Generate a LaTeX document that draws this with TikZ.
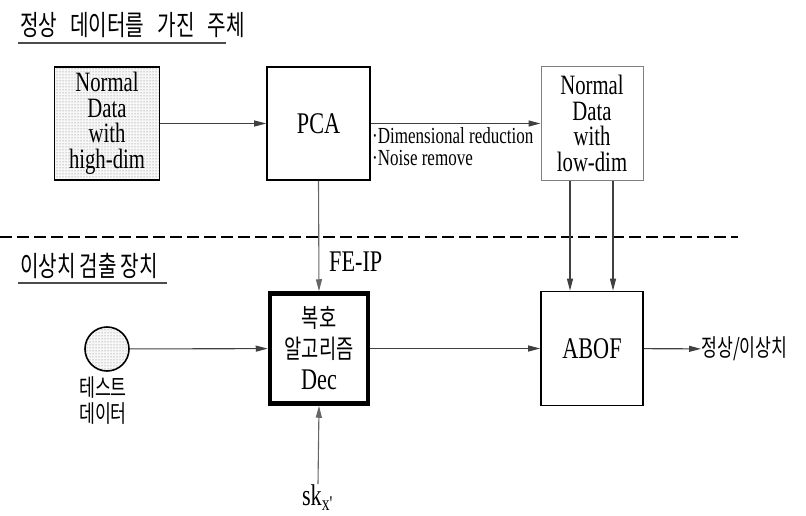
\documentclass[tikz,border=0pt]{standalone}
\usepackage{fontspec}
\setmainfont[FakeStretch=0.74]{Liberation Serif}
\newfontfamily\kr[FakeStretch=0.72]{Noto Sans CJK KR}
\usetikzlibrary{arrows.meta,patterns}
\newcommand{\krsp}{\hspace{13pt}}
\begin{document}
\begin{tikzpicture}[x=1pt,y=-1pt,
  box/.style={draw, line width=1.6pt, minimum width=103pt, minimum height=113pt, inner sep=0pt, align=center, font=\fontsize{28}{25.5}\selectfont},
  arr/.style={draw=black!75, line width=1.1pt, -{Triangle[length=12pt,width=6pt]}},
  stip/.style={preaction={fill=gray!6}, pattern=dots, pattern color=black!55},
  kor/.style={font=\kr\fontsize{28}{31}\selectfont, inner sep=0pt},
  lbl/.style={font=\fontsize{30}{30}\selectfont, inner sep=0pt}
]
\useasboundingbox (0,0) rectangle (806,516);

% titles
\node[kor, anchor=west] (t1) at (20,25) {정상\krsp 데이터를\krsp 가진\krsp 주체};
\draw[line width=1.3pt, black!70] (18,43) -- (226,43);
\node[kor, anchor=west] (t2) at (20,266) {이상치\hspace{4pt}검출\hspace{4pt}장치};
\draw[line width=1.3pt, black!70] (18,283) -- (167,283);

% separator
\draw[line width=2pt, dash pattern=on 12pt off 5pt] (0,237) -- (738,237);

% top row
\node[box, stip, minimum width=105pt] (hd) at (107,123.5) {Normal\\Data\\with\\high-dim};
\node[box, font=\fontsize{30}{30}\selectfont] (pca) at (318.5,123.5) {PCA};
\node[box, draw=black!50, line width=1pt, minimum width=102pt] (ld) at (592,123.5) {Normal\\Data\\with\\low-dim};

% bottom row
\node[box, line width=4.5pt, minimum width=98pt, minimum height=110pt, font=\kr\fontsize{26}{31}\selectfont] (dec) at (319,348.5) {복호\\알고리즘\\{\rmfamily\fontsize{30}{30}\selectfont Dec}};
\node[box, minimum width=102pt, minimum height=114pt, font=\fontsize{30}{30}\selectfont] (abof) at (592,348.5) {ABOF};
\node[circle, draw, line width=1.6pt, stip, minimum size=44pt, inner sep=0pt] (circ) at (107,349) {};

% labels
\node[anchor=north west, inner sep=0pt, align=left, font=\fontsize{23}{22}\selectfont] (notes) at (372,127) {·Dimensional reduction\\·Noise remove};
\node[lbl, anchor=west] (feip) at (329,262) {FE-IP};
\node[kor, font=\kr\fontsize{24}{26}\selectfont, align=center, anchor=north] (test) at (103,376) {테스트\\데이터};
\node[kor, font=\kr\fontsize{24}{26}\selectfont, anchor=west] (out) at (701,349) {정상/이상치};
\node[lbl, anchor=north] (sk) at (318,484) {sk\textsubscript{x\textquotesingle}};

% connectors
\draw[arr] (hd) -- (pca);
\draw[arr] (pca) -- (ld);
\draw[arr, draw=black!60] (pca.south) -- (dec.north);
\draw[arr] ([xshift=-22pt]ld.south) -- ([xshift=-22pt]abof.north);
\draw[arr] ([xshift=21pt]ld.south) -- ([xshift=21pt]abof.north);
\draw[arr] (circ) -- (dec);
\draw[arr] (dec) -- (abof);
\draw[arr] (abof) -- (out);
\draw[arr, draw=black!60] (sk.north) -- (dec.south);
\end{tikzpicture}
\end{document}
